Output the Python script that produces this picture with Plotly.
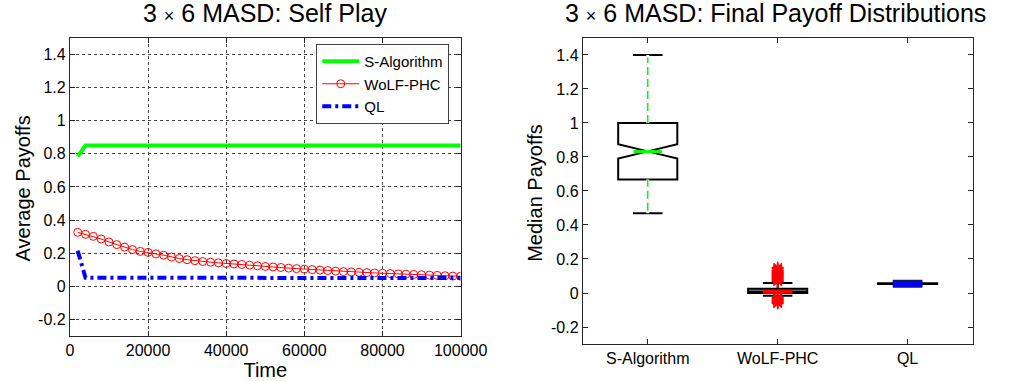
import plotly.graph_objects as go

# ---------------- data: left panel (self play) ----------------
time_steps = [2000, 4000, 6000, 8000, 10000, 12000, 14000, 16000, 18000, 20000,
              22000, 24000, 26000, 28000, 30000, 32000, 34000, 36000, 38000, 40000,
              42000, 44000, 46000, 48000, 50000, 52000, 54000, 56000, 58000, 60000,
              62000, 64000, 66000, 68000, 70000, 72000, 74000, 76000, 78000, 80000,
              82000, 84000, 86000, 88000, 90000, 92000, 94000, 96000, 98000, 100000]

s_algorithm_payoff = [0.785, 0.850, 0.850, 0.850, 0.850, 0.850, 0.850, 0.850, 0.850, 0.850,
                      0.850, 0.850, 0.850, 0.850, 0.850, 0.850, 0.850, 0.850, 0.850, 0.850,
                      0.850, 0.850, 0.850, 0.850, 0.850, 0.850, 0.850, 0.850, 0.850, 0.850,
                      0.850, 0.850, 0.850, 0.850, 0.850, 0.850, 0.850, 0.850, 0.850, 0.850,
                      0.850, 0.850, 0.850, 0.850, 0.850, 0.850, 0.850, 0.850, 0.850, 0.850]

wolf_phc_payoff = [0.326, 0.314, 0.302, 0.286, 0.268, 0.252, 0.237, 0.222, 0.211, 0.205,
                   0.196, 0.188, 0.177, 0.168, 0.161, 0.155, 0.150, 0.146, 0.142, 0.138,
                   0.135, 0.132, 0.128, 0.124, 0.120, 0.117, 0.114, 0.110, 0.107, 0.104,
                   0.101, 0.098, 0.095, 0.092, 0.089, 0.087, 0.085, 0.083, 0.081, 0.079,
                   0.077, 0.075, 0.073, 0.072, 0.070, 0.068, 0.066, 0.064, 0.062, 0.061]

ql_payoff = [0.215, 0.052, 0.052, 0.052, 0.052, 0.052, 0.052, 0.052, 0.052, 0.052,
             0.052, 0.052, 0.052, 0.052, 0.052, 0.052, 0.052, 0.052, 0.052, 0.052,
             0.051, 0.051, 0.051, 0.051, 0.051, 0.051, 0.051, 0.051, 0.051, 0.051,
             0.051, 0.051, 0.051, 0.051, 0.051, 0.050, 0.050, 0.050, 0.050, 0.050,
             0.050, 0.050, 0.050, 0.050, 0.050, 0.050, 0.050, 0.050, 0.050, 0.050]

series_names = ["S-Algorithm", "WoLF-PHC", "QL"]

# ---------------- data: right panel (final payoff distributions) ----------------
box_categories = ["S-Algorithm", "WoLF-PHC", "QL"]
box_positions = [1, 2, 3]
box_q1 = [0.668, 0.000, 0.053]
box_median = [0.833, 0.008, 0.055]
box_q3 = [1.000, 0.025, 0.057]
box_lowerfence = [0.469, -0.016, 0.053]
box_upperfence = [1.400, 0.059, 0.057]
box_notchspan = [0.042, 0.0, 0.0]

wolf_outliers = [0.068, 0.074, 0.080, 0.086, 0.092, 0.098, 0.104, 0.110, 0.116,
                 0.122, 0.128, 0.134, 0.142, 0.150, -0.026, -0.032, -0.038,
                 -0.044, -0.050, -0.056, -0.062]

y_tickvals = [-0.2, 0, 0.2, 0.4, 0.6, 0.8, 1, 1.2, 1.4]
y_ticktext = ["-0.2", "0", "0.2", "0.4", "0.6", "0.8", "1", "1.2", "1.4"]
x_tickvals = [0, 20000, 40000, 60000, 80000, 100000]
x_ticktext = ["0", "20000", "40000", "60000", "80000", "100000"]

# ---------------- styles ----------------
FONT = "Liberation Sans, Arial, sans-serif"
GREEN = "#00ff00"
RED = "#ff0000"
BLUE = "#0000ff"
AXIS = "#262626"
BOX_W = 0.455
median_colors = [GREEN, RED, BLUE]
median_widths = [3, 4, 6]
median_frac = [0.26, 0.25, 0.25]   # inset of median line from box edge (fraction of box width)
box_fills = ["rgba(0,0,0,0)", "#8c8c8c", "#000000"]

fig = go.Figure()

# left panel lines
fig.add_trace(go.Scatter(x=time_steps, y=s_algorithm_payoff, name=series_names[0],
                         mode="lines", line=dict(color=GREEN, width=4),
                         xaxis="x", yaxis="y"))
fig.add_trace(go.Scatter(x=time_steps, y=wolf_phc_payoff, name=series_names[1],
                         mode="lines+markers", line=dict(color=RED, width=1),
                         marker=dict(symbol="circle-open", size=8, color=RED,
                                     line=dict(width=1, color=RED)),
                         xaxis="x", yaxis="y"))
fig.add_trace(go.Scatter(x=time_steps, y=ql_payoff, name=series_names[2],
                         mode="lines", line=dict(color=BLUE, width=4, dash="9px,4px,3px,4px"),
                         xaxis="x", yaxis="y"))

# right panel boxes
for i, cat in enumerate(box_categories):
    fig.add_trace(go.Box(
        x=[box_positions[i]], q1=[box_q1[i]], median=[box_median[i]], q3=[box_q3[i]],
        lowerfence=[box_lowerfence[i]], upperfence=[box_upperfence[i]],
        notched=box_notchspan[i] > 0,
        notchspan=[box_notchspan[i]] if box_notchspan[i] > 0 else None,
        notchwidth=0.5,
        width=BOX_W, whiskerwidth=0.5,
        line=dict(color="black", width=2), fillcolor=box_fills[i],
        boxpoints=False, showlegend=False, name=cat, hoverinfo="skip",
        xaxis="x2", yaxis="y2"))

# S-Algorithm whiskers: green dashed
p = box_positions[0]
fig.add_trace(go.Scatter(x=[p, p, None, p, p],
                         y=[box_q3[0], box_upperfence[0], None, box_lowerfence[0], box_q1[0]],
                         mode="lines", line=dict(color="white", width=3),
                         showlegend=False, hoverinfo="skip", xaxis="x2", yaxis="y2"))
fig.add_trace(go.Scatter(x=[p, p, None, p, p],
                         y=[box_q3[0], box_upperfence[0] - 0.015, None,
                            box_lowerfence[0] + 0.015, box_q1[0]],
                         mode="lines", line=dict(color=GREEN, width=1.5, dash="8px,4px"),
                         showlegend=False, hoverinfo="skip", xaxis="x2", yaxis="y2"))

# WoLF-PHC outliers
fig.add_trace(go.Scatter(x=[box_positions[1]] * len(wolf_outliers), y=wolf_outliers,
                         mode="markers",
                         marker=dict(symbol="asterisk-open", size=10, color=RED,
                                     line=dict(color=RED, width=1.5)),
                         showlegend=False, hoverinfo="skip", xaxis="x2", yaxis="y2"))

# coloured median lines
for i, cat in enumerate(box_categories):
    half = BOX_W / 2
    x0 = box_positions[i] - half + BOX_W * median_frac[i]
    x1 = box_positions[i] + half - BOX_W * median_frac[i]
    if i == 2:
        fig.add_trace(go.Scatter(x=[x0, x1], y=[box_median[i], box_median[i]], mode="lines",
                                 line=dict(color="#202020", width=median_widths[i] + 2),
                                 showlegend=False, hoverinfo="skip", xaxis="x2", yaxis="y2"))
    fig.add_trace(go.Scatter(x=[x0, x1], y=[box_median[i], box_median[i]], mode="lines",
                             line=dict(color=median_colors[i], width=median_widths[i]),
                             showlegend=False, hoverinfo="skip", xaxis="x2", yaxis="y2"))

axis_common = dict(showline=True, linecolor=AXIS, linewidth=1, mirror="ticks",
                   ticks="inside", ticklen=5, tickcolor=AXIS, zeroline=False,
                   tickfont=dict(family=FONT, size=16, color="black"))

TITLE_FONT = dict(family=FONT, size=20, color="black")

fig.update_layout(
    width=1016, height=381,
    margin=dict(l=0, r=0, t=0, b=0),
    paper_bgcolor="white", plot_bgcolor="white",
    font=dict(family=FONT, color="black"),
    xaxis=dict(domain=[0.0669, 0.4636], range=[0, 100000], tickvals=x_tickvals,
               ticktext=x_ticktext, showgrid=True, gridcolor="#444444", griddash="dot",
               gridwidth=1,
               title=dict(text="Time", font=TITLE_FONT, standoff=2),
               anchor="y", **axis_common),
    yaxis=dict(domain=[0.1181, 0.9003], range=[-0.3, 1.5], tickvals=y_tickvals,
               ticktext=y_ticktext, showgrid=True, gridcolor="#444444", griddash="dot",
               gridwidth=1, anchor="x", **axis_common),
    xaxis2=dict(domain=[0.5876, 0.9833], range=[0.5, 3.5], tickvals=box_positions,
                ticktext=box_categories, showgrid=False, anchor="y2", **axis_common),
    yaxis2=dict(domain=[0.0971, 0.9003], range=[-0.3, 1.5], tickvals=y_tickvals,
                ticktext=y_ticktext, showgrid=False, anchor="x2", **axis_common),
    legend=dict(x=0.317, y=0.8845, xanchor="left", yanchor="top",
                bgcolor="white", bordercolor="#404040", borderwidth=1,
                font=dict(family=FONT, size=15, color="black"), itemwidth=37,
                tracegroupgap=0),
    showlegend=True,
    annotations=[
        dict(text="3 <span style='font-size:18px'>×</span> 6 MASD: Self Play",
             x=0.2652, y=0.966, xref="paper", yref="paper", xanchor="center",
             yanchor="middle", showarrow=False, font=dict(family=FONT, size=25)),
        dict(text="3 <span style='font-size:18px'>×</span> 6 MASD: Final Payoff Distributions",
             x=0.7835, y=0.966, xref="paper", yref="paper", xanchor="center",
             yanchor="middle", showarrow=False, font=dict(family=FONT, size=25)),
        dict(text="Average Payoffs", textangle=-90, x=20 / 1016, y=1 - 188 / 381,
             xref="paper", yref="paper", xanchor="center", yanchor="middle",
             showarrow=False, font=TITLE_FONT),
        dict(text="Median Payoffs", textangle=-90, x=547.5 / 1016, y=1 - 193 / 381,
             xref="paper", yref="paper", xanchor="center", yanchor="middle",
             showarrow=False, font=TITLE_FONT),
    ],
)

fig.write_html("out.html")
